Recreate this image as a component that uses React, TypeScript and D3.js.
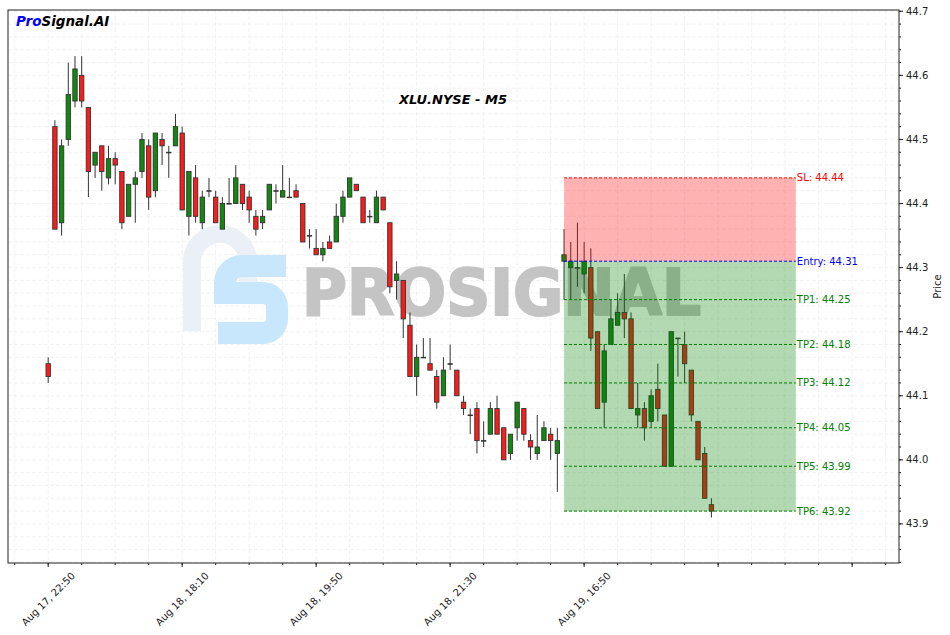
import * as d3 from 'd3';

// candle data, one entry per 5-minute bar (index = bar number)
const opens = [
  44.15, 44.52, 44.37, 44.50, 44.56, 44.60, 44.55, 44.46, 44.49, 44.44,
  44.47, 44.45, 44.38, 44.43, 44.45, 44.49, 44.42, 44.50, 44.48, 44.49,
  44.51, 44.38, 44.44, 44.37, 44.42, 44.41, 44.36, 44.40, 44.40, 44.43,
  44.41, 44.38, 44.37, 44.39, 44.42, 44.41, 44.41, 44.42, 44.40, 44.35,
  44.33, 44.32, 44.34, 44.34, 44.38, 44.41, 44.43, 44.41, 44.38, 44.37,
  44.41, 44.37, 44.28, 44.28, 44.21, 44.13, 44.16, 44.15, 44.13, 44.10,
  44.15, 44.14, 44.09, 44.07, 44.08, 44.03, 44.04, 44.08, 44.05, 44.01,
  44.05, 44.08, 44.03, 44.01, 44.03, 44.04, 44.01, 44.31, 44.30, 44.30,
  44.29, 44.30, 44.20, 44.09, 44.18, 44.21, 44.23, 44.22, 44.07, 44.08,
  44.06, 44.11, 44.07, 43.99, 44.19, 44.18, 44.14, 44.06, 44.01, 43.93,
];
const highs = [
  44.16, 44.53, 44.50, 44.62, 44.63, 44.63, 44.55, 44.48, 44.49, 44.49,
  44.48, 44.45, 44.43, 44.45, 44.51, 44.50, 44.51, 44.51, 44.49, 44.54,
  44.52, 44.45, 44.46, 44.42, 44.44, 44.42, 44.41, 44.44, 44.46, 44.43,
  44.42, 44.39, 44.39, 44.43, 44.43, 44.46, 44.44, 44.43, 44.40, 44.36,
  44.36, 44.34, 44.35, 44.40, 44.42, 44.44, 44.43, 44.41, 44.39, 44.42,
  44.41, 44.37, 44.31, 44.28, 44.23, 44.18, 44.19, 44.19, 44.14, 44.16,
  44.18, 44.14, 44.10, 44.08, 44.09, 44.06, 44.09, 44.10, 44.05, 44.04,
  44.09, 44.08, 44.04, 44.07, 44.06, 44.05, 44.05, 44.36, 44.34, 44.37,
  44.34, 44.33, 44.20, 44.18, 44.25, 44.26, 44.29, 44.23, 44.12, 44.09,
  44.11, 44.15, 44.07, 44.20, 44.19, 44.20, 44.14, 44.06, 44.02, 43.94,
];
const lows = [
  44.12, 44.36, 44.35, 44.49, 44.55, 44.55, 44.41, 44.44, 44.42, 44.43,
  44.43, 44.36, 44.38, 44.37, 44.44, 44.39, 44.41, 44.46, 44.44, 44.49,
  44.39, 44.35, 44.37, 44.36, 44.41, 44.37, 44.36, 44.40, 44.40, 44.39,
  44.37, 44.35, 44.36, 44.39, 44.40, 44.41, 44.41, 44.41, 44.34, 44.33,
  44.32, 44.31, 44.33, 44.34, 44.37, 44.41, 44.42, 44.37, 44.37, 44.37,
  44.39, 44.26, 44.25, 44.19, 44.13, 44.10, 44.16, 44.14, 44.08, 44.10,
  44.14, 44.10, 44.07, 44.04, 44.01, 44.02, 44.04, 44.04, 44.00, 44.00,
  44.03, 44.03, 44.00, 44.00, 44.03, 44.00, 43.95, 44.25, 44.25, 44.27,
  44.26, 44.17, 44.08, 44.05, 44.18, 44.21, 44.19, 44.08, 44.05, 44.03,
  44.05, 44.06, 43.99, 43.99, 44.13, 44.12, 44.06, 44.00, 43.94, 43.91,
];
const closes = [
  44.13, 44.36, 44.49, 44.57, 44.61, 44.56, 44.45, 44.48, 44.45, 44.47,
  44.46, 44.37, 44.43, 44.44, 44.50, 44.41, 44.51, 44.49, 44.48, 44.52,
  44.39, 44.45, 44.38, 44.41, 44.42, 44.37, 44.40, 44.40, 44.44, 44.40,
  44.39, 44.36, 44.38, 44.43, 44.42, 44.42, 44.41, 44.41, 44.34, 44.35,
  44.32, 44.33, 44.33, 44.38, 44.41, 44.44, 44.42, 44.37, 44.38, 44.41,
  44.39, 44.27, 44.29, 44.22, 44.13, 44.16, 44.16, 44.14, 44.09, 44.14,
  44.15, 44.10, 44.08, 44.07, 44.03, 44.03, 44.08, 44.04, 44.00, 44.04,
  44.09, 44.04, 44.02, 44.02, 44.05, 44.03, 44.03, 44.32, 44.31, 44.30,
  44.31, 44.19, 44.08, 44.17, 44.22, 44.23, 44.22, 44.08, 44.08, 44.05,
  44.10, 44.08, 43.99, 44.20, 44.19, 44.15, 44.07, 44.00, 43.94, 43.92,
];

const tickIndices = [0, 20, 40, 60, 80, 100, 120];
const tickLabels = ['Aug 17, 22:50', 'Aug 18, 18:10', 'Aug 18, 19:50', 'Aug 18, 21:30', 'Aug 19, 16:50'];
const priceTicks = [43.9, 44.0, 44.1, 44.2, 44.3, 44.4, 44.5, 44.6, 44.7];

// trade setup
const zoneStart = 77;
const zoneEnd = 111.6;
const stopLoss = 44.44;
const entry = 44.31;
const targets = [44.25, 44.18, 44.12, 44.05, 43.99, 43.92];

const W = 950;
const H = 635;
const left = 8, right = 899, top = 10, bottom = 563;
const font = 'DejaVu Sans, sans-serif';

export default function App() {
  const x = d3.scaleLinear().domain([-6, 127]).range([left, right]);
  const y = d3.scaleLinear().domain([43.839, 44.702]).range([bottom, top]);

  const minorX = d3.range(-5, 127, 5);
  const minorY = d3.range(43.84, 44.705, 0.02);
  const bw = x(0.65) - x(0);

  const bars = opens.map((o, i) => ({ i, o, h: highs[i], l: lows[i], c: closes[i] }));

  const zx0 = x(zoneStart);
  const zx1 = x(zoneEnd);

  const levels = [
    { v: stopLoss, label: `SL: ${stopLoss.toFixed(2)}`, color: '#ff0000' },
    { v: entry, label: `Entry: ${entry.toFixed(2)}`, color: '#0000ff' },
    ...targets.map((t, k) => ({ v: t, label: `TP${k + 1}: ${t.toFixed(2)}`, color: '#008000' })),
  ];

  return (
    <svg width={W} height={H} style={{ position: 'absolute', left: 0, top: 0, background: '#fff' }} fontFamily={font}>
      <defs>
        <clipPath id="plot">
          <rect x={left} y={top} width={right - left} height={bottom - top} />
        </clipPath>
        <filter id="soft">
          <feGaussianBlur stdDeviation="0.7" />
        </filter>
      </defs>

      {/* grid */}
      <g stroke="#efefef" strokeWidth={0.8} strokeDasharray="4,2">
        {minorX.map((v) => (
          <line key={'gx' + v} x1={x(v)} x2={x(v)} y1={top} y2={bottom} />
        ))}
        {minorY.map((v) => (
          <line key={'gy' + v} x1={left} x2={right} y1={y(v)} y2={y(v)} />
        ))}
      </g>

      {/* watermark */}
      <g clipPath="url(#plot)">
        <path d="M192,331 V262 A28,28 0 0 1 248,262 V283" fill="none" stroke="#ebf0f6" strokeWidth={18} />
        <path
          d="M286,266 H242 A17,17 0 0 0 225,283 V293 H263 A14,14 0 0 1 277,307 V319 A14,14 0 0 1 263,333 H218"
          fill="none"
          stroke="#c9e7fc"
          strokeWidth={22}
        />
        <text
          x={302}
          y={315}
          fontSize={64}
          fontWeight="bold"
          fill="#c4c4c4"
          stroke="#c4c4c4"
          strokeWidth={2.2}
          textLength={399}
          lengthAdjust="spacingAndGlyphs"
          filter="url(#soft)"
        >
          PROSIGNAL
        </text>
      </g>

      {/* candles */}
      <g>
        {bars.map((b) => {
          const up = b.c >= b.o;
          const yt = y(Math.max(b.o, b.c));
          const yb = y(Math.min(b.o, b.c));
          return (
            <g key={b.i}>
              <line x1={x(b.i)} x2={x(b.i)} y1={y(b.h)} y2={y(b.l)} stroke="#333" strokeWidth={1} />
              <rect
                x={x(b.i) - bw / 2}
                y={yt}
                width={bw}
                height={Math.max(yb - yt, 0.6)}
                fill={up ? '#0f8a0f' : '#ff1a1a'}
                stroke="#333"
                strokeWidth={0.9}
              />
            </g>
          );
        })}
      </g>

      {/* trade zones */}
      <rect x={zx0} y={y(stopLoss)} width={zx1 - zx0} height={y(entry) - y(stopLoss)} fill="#ff0000" fillOpacity={0.3} />
      <rect
        x={zx0}
        y={y(entry)}
        width={zx1 - zx0}
        height={y(targets[targets.length - 1]) - y(entry)}
        fill="#008000"
        fillOpacity={0.3}
      />
      {levels.map((lv) => (
        <g key={lv.label}>
          <line x1={zx0} x2={zx1} y1={y(lv.v)} y2={y(lv.v)} stroke={lv.color} strokeWidth={1} strokeDasharray="3,2" />
          <text x={zx1 + 1} y={y(lv.v)} dy="0.35em" fontSize={10} fill={lv.color}>
            {lv.label}
          </text>
        </g>
      ))}

      {/* frame */}
      <rect x={left} y={top} width={right - left} height={bottom - top} fill="none" stroke="#222" strokeWidth={1} />

      {/* right price axis */}
      <g>
        {minorY.map((v) => (
          <line key={'ty' + v} x1={right} x2={right + 2} y1={y(v)} y2={y(v)} stroke="#222" />
        ))}
        {priceTicks.map((v) => (
          <g key={'py' + v}>
            <line x1={right} x2={right + 4} y1={y(v)} y2={y(v)} stroke="#222" />
            <text x={right + 7} y={y(v)} dy="0.35em" fontSize={10} fill="#222">
              {v.toFixed(1)}
            </text>
          </g>
        ))}
        <text
          transform={`translate(${941},${(top + bottom) / 2}) rotate(-90)`}
          textAnchor="middle"
          fontSize={10}
          fill="#222"
        >
          Price
        </text>
      </g>

      {/* bottom time axis */}
      <g>
        {minorX.map((v) => (
          <line key={'tx' + v} x1={x(v)} x2={x(v)} y1={bottom} y2={bottom + 2} stroke="#222" />
        ))}
        {tickIndices.map((v, k) => (
          <g key={'bx' + v}>
            <line x1={x(v)} x2={x(v)} y1={bottom} y2={bottom + 4} stroke="#222" />
            {tickLabels[k] && (
              <text
                transform={`translate(${x(v)},${599}) rotate(-45)`}
                textAnchor="middle"
                dy="0.35em"
                fontSize={10}
                fill="#222"
              >
                {tickLabels[k]}
              </text>
            )}
          </g>
        ))}
      </g>

      {/* title and brand */}
      <text x={453} y={104} textAnchor="middle" fontSize={13} fontWeight="bold" fontStyle="italic" fill="#000">
        XLU.NYSE - M5
      </text>
      <text x={16} y={26} fontSize={13.5} fontWeight="bold" fontStyle="italic">
        <tspan fill="#0000ff">Pro</tspan>
        <tspan fill="#000">Signal.AI</tspan>
      </text>
    </svg>
  );
}
